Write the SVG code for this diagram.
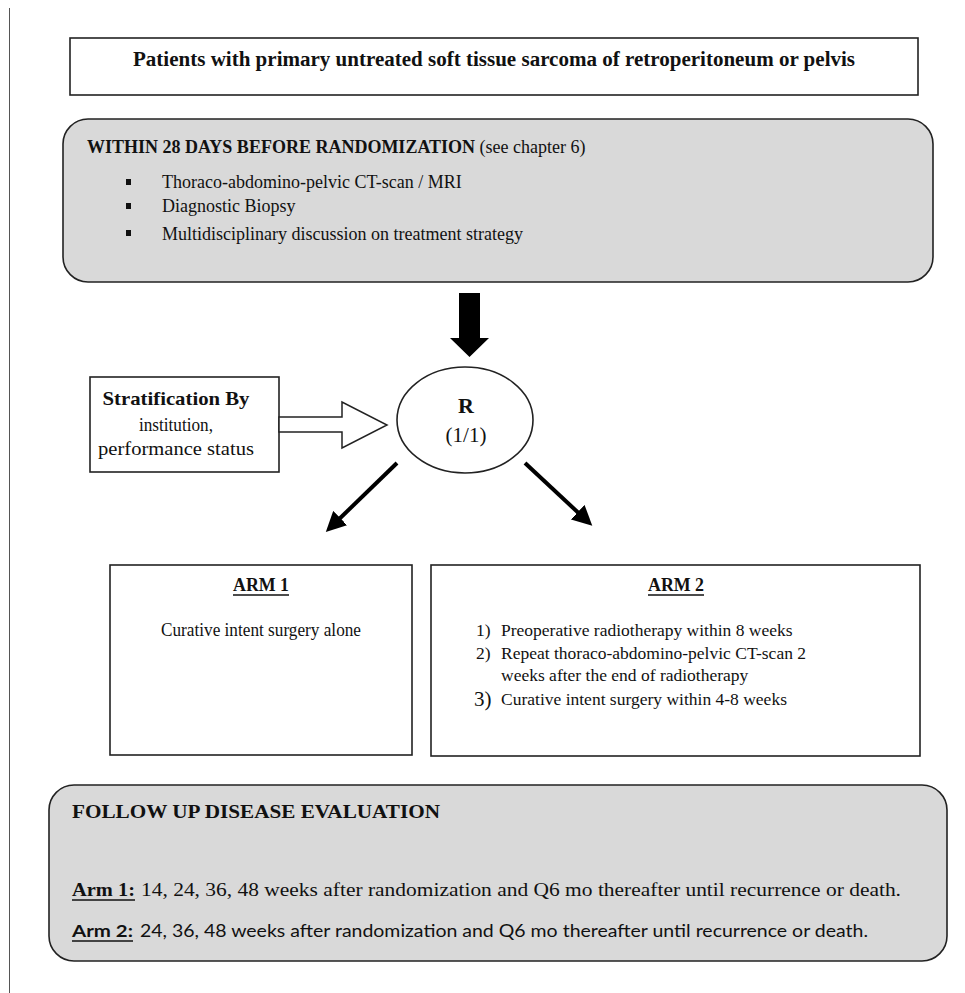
<svg xmlns="http://www.w3.org/2000/svg" width="965" height="993" viewBox="0 0 965 993">
<style>
.serif{font-family:"Liberation Serif","Times New Roman",serif;fill:#111}
.b{font-weight:bold}
.box{fill:#fff;stroke:#222;stroke-width:1.6}
.gbox{fill:#d9d9d9;stroke:#222;stroke-width:1.6}
.sans{font-family:Lato,"Liberation Sans",sans-serif;fill:#111}
</style>
<defs>
<marker id="ah" markerWidth="5" markerHeight="5" refX="2.5" refY="2.5" orient="auto" markerUnits="strokeWidth">
<path d="M0,0 L5,2.5 L0,5 Z" fill="#000"/>
</marker>
</defs>
<rect width="965" height="993" fill="#fff"/>
<line x1="9.5" y1="8" x2="9.5" y2="993" stroke="#555" stroke-width="1"/>

<g id="patients">
<rect class="box" x="70" y="38" width="848" height="57"/>
<text class="serif b" x="494" y="66" font-size="20" text-anchor="middle" textLength="722" lengthAdjust="spacingAndGlyphs">Patients with primary untreated soft tissue sarcoma of retroperitoneum or pelvis</text>
</g>

<g id="screening">
<rect class="gbox" x="63" y="119" width="870" height="163" rx="25"/>
<text class="serif" x="87" y="153" font-size="18"><tspan font-weight="bold">WITHIN 28 DAYS BEFORE RANDOMIZATION</tspan> (see chapter 6)</text>
<rect x="126" y="179" width="5" height="6" fill="#111"/>
<rect x="126" y="203" width="5" height="6" fill="#111"/>
<rect x="126" y="230" width="5" height="6" fill="#111"/>
<text class="serif" x="162" y="188" font-size="18">Thoraco-abdomino-pelvic CT-scan / MRI</text>
<text class="serif" x="162" y="212" font-size="18">Diagnostic Biopsy</text>
<text class="serif" x="162" y="240" font-size="18">Multidisciplinary discussion on treatment strategy</text>
</g>

<g id="stratification">
<rect class="box" x="90" y="377" width="189" height="95"/>
<text class="serif b" x="176" y="405" font-size="19" text-anchor="middle" textLength="147" lengthAdjust="spacingAndGlyphs">Stratification By</text>
<text class="serif" x="176" y="431" font-size="19" text-anchor="middle" textLength="74" lengthAdjust="spacingAndGlyphs">institution,</text>
<text class="serif" x="176" y="455" font-size="19" text-anchor="middle" textLength="156" lengthAdjust="spacingAndGlyphs">performance status</text>
</g>

<g id="randomization">
<ellipse cx="465" cy="420" rx="68" ry="53" fill="#fff" stroke="#222" stroke-width="1.6"/>
<text class="serif b" x="466" y="413" font-size="22" text-anchor="middle">R</text>
<text class="serif" x="466" y="442" font-size="21" text-anchor="middle">(1/1)</text>
</g>

<g id="arm1">
<rect class="box" x="110" y="565" width="302" height="190"/>
<text class="serif b" x="261" y="591" font-size="18" text-anchor="middle" textLength="56" lengthAdjust="spacingAndGlyphs">ARM 1</text>
<line x1="233" y1="595" x2="289" y2="595" stroke="#111" stroke-width="1.3"/>
<text class="serif" x="261" y="636" font-size="18" text-anchor="middle" textLength="200" lengthAdjust="spacingAndGlyphs">Curative intent surgery alone</text>
</g>

<g id="arm2">
<rect class="box" x="431" y="565" width="489" height="191"/>
<text class="serif b" x="676" y="591" font-size="18" text-anchor="middle" textLength="56" lengthAdjust="spacingAndGlyphs">ARM 2</text>
<line x1="648" y1="595" x2="704" y2="595" stroke="#111" stroke-width="1.3"/>
<text class="serif" x="476" y="636" font-size="17.5">1)</text>
<text class="serif" x="501" y="636" font-size="17.5">Preoperative radiotherapy within 8 weeks</text>
<text class="serif" x="476" y="659" font-size="17.5">2)</text>
<text class="serif" x="501" y="659" font-size="17.5">Repeat thoraco-abdomino-pelvic CT-scan 2</text>
<text class="serif" x="501" y="681" font-size="17.5">weeks after the end of radiotherapy</text>
<text class="serif" x="474" y="706" font-size="21">3)</text>
<text class="serif" x="501" y="705" font-size="17.5">Curative intent surgery within 4-8 weeks</text>
</g>

<g id="followup">
<rect class="gbox" x="49" y="785" width="898" height="176" rx="25"/>
<text class="serif b" x="72" y="818" font-size="18" textLength="368" lengthAdjust="spacingAndGlyphs">FOLLOW UP DISEASE EVALUATION</text>
<text class="serif b" x="72" y="896" font-size="18" textLength="63" lengthAdjust="spacingAndGlyphs">Arm 1:</text>
<line x1="72" y1="900" x2="135" y2="900" stroke="#111" stroke-width="1.3"/>
<text class="serif" x="141" y="896" font-size="18" textLength="760" lengthAdjust="spacingAndGlyphs">14, 24, 36, 48 weeks after randomization and Q6 mo thereafter until recurrence or death.</text>
<text class="sans b" x="72" y="937" font-size="17" textLength="61" lengthAdjust="spacingAndGlyphs">Arm 2:</text>
<line x1="72" y1="941" x2="133" y2="941" stroke="#111" stroke-width="1.3"/>
<text class="sans" x="140" y="937" font-size="17" textLength="728" lengthAdjust="spacingAndGlyphs">24, 36, 48 weeks after randomization and Q6 mo thereafter until recurrence or death.</text>
</g>

<g id="connectors">
<polygon points="459,293 480,293 480,338 489,338 469.5,357 450,338 459,338" fill="#000"/>
<polygon points="279,417 342,417 342,402 387,425 342,448 342,432 279,432" fill="#fff" stroke="#222" stroke-width="1.5"/>
<line x1="397" y1="463" x2="333" y2="525" stroke="#000" stroke-width="4" marker-end="url(#ah)"/>
<line x1="525" y1="463" x2="585" y2="519" stroke="#000" stroke-width="4" marker-end="url(#ah)"/>
</g>
</svg>
